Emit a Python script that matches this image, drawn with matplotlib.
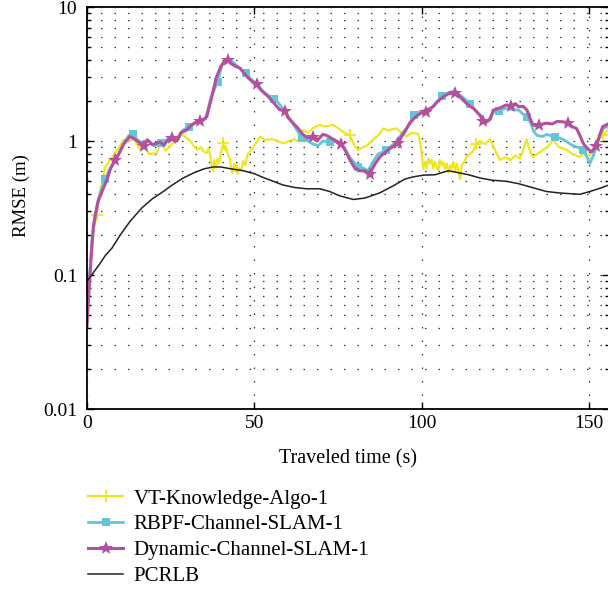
import matplotlib
matplotlib.use('Agg')
import matplotlib.pyplot as plt
from matplotlib.ticker import FixedLocator, FixedFormatter, LogLocator, NullFormatter

# ---- data ----
t_vt = [0, 0.5, 1, 1.5, 2, 2.9, 3.5, 4.5, 5.4, 6.5, 7.9, 9, 10.9, 12.8, 14, 15.8, 17, 18.5,
        20.8, 22, 23.5, 24.8, 26.5, 27.8, 28.8, 30.8, 32.8, 34, 34.8, 35.8, 36.3, 36.8, 37.3,
        37.7, 38.1, 38.5, 39, 39.5, 40, 40.7, 41.2, 41.5, 42, 42.7, 43.1, 43.5, 44, 44.4,
        44.7, 45.1, 45.5, 46, 46.7, 47.3, 48, 48.8, 49.7, 51.7, 53, 55.7, 58.7, 61.6, 63,
        64.6, 66, 67.5, 69.6, 71, 73.6, 75, 76.6, 78.6, 79.6, 81, 82.1, 83.5, 85.6, 87, 88.5,
        90, 92.5, 94, 95.5, 97, 99, 99.8, 100.5, 101, 101.5, 102, 102.5, 103, 103.5, 104,
        104.5, 105, 105.5, 106, 106.5, 107, 107.5, 108, 108.5, 109, 109.5, 110, 110.5, 111,
        111.5, 112, 112.7, 113.4, 115.5, 116.4, 117.4, 119, 120.4, 121.5, 123.4, 125, 126.4,
        128, 129.4, 130.5, 131.4, 132.3, 133.3, 134.5, 136.3, 138, 139.3, 141, 143.3, 145,
        147.3, 148.5, 150.3, 151.5, 152.8, 154.2, 156]
rmse_vt = [0.04, 0.07, 0.12, 0.17, 0.22, 0.28, 0.38, 0.5, 0.64, 0.7, 0.78, 0.85, 1.02, 1.0,
           1.05, 0.86, 0.95, 0.8, 0.81, 0.95, 0.85, 0.92, 1.0, 1.13, 1.1, 1.0, 0.86, 0.9,
           0.84, 0.81, 0.88, 0.78, 0.66, 0.6, 0.72, 0.63, 0.74, 0.68, 0.82, 0.96, 0.86, 0.92,
           0.8, 0.74, 0.62, 0.58, 0.68, 0.6, 0.66, 0.57, 0.63, 0.6, 0.71, 0.66, 0.8, 0.84,
           0.9, 1.08, 1.02, 1.03, 0.96, 1.03, 1.0, 1.21, 1.15, 1.25, 1.32, 1.28, 1.32, 1.25,
           1.17, 1.1, 0.96, 0.85, 0.89, 0.92, 1.03, 1.1, 1.24, 1.2, 1.24, 1.15, 1.08, 1.15,
           1.13, 0.9, 0.62, 0.7, 0.63, 0.74, 0.68, 0.72, 0.62, 0.7, 0.64, 0.6, 0.72, 0.66,
           0.7, 0.62, 0.68, 0.58, 0.66, 0.62, 0.7, 0.6, 0.68, 0.6, 0.52, 0.66, 0.7, 0.76,
           0.85, 0.95, 1.0, 0.95, 1.03, 0.9, 0.72, 0.76, 0.72, 0.78, 0.74, 0.88, 1.03, 0.85,
           0.76, 0.8, 0.86, 0.92, 1.03, 0.9, 0.86, 0.8, 0.76, 0.82, 0.78, 0.88, 1.03, 1.1,
           1.25]
marks_vt = [2.9, 40.7, 78.6, 116.4, 154.2]

t_rbpf = [0, 0.5, 1, 1.5, 2.5, 3.4, 4.5, 5.4, 7, 8.5, 9.5, 11, 12.5, 13.8, 15, 17, 18.5, 20,
          22.2, 24, 25.5, 27, 28.5, 30.6, 32, 33.8, 35.5, 37, 39, 40.5, 41.8, 43.5, 45, 47.4,
          49, 51, 53, 55.8, 57, 58.5, 60, 61.5, 63, 64.2, 66, 67.5, 69, 70.5, 72.6, 74, 75.5,
          77, 78.6, 81, 82.5, 84, 85.5, 87, 89.4, 91, 92.5, 94, 95.5, 97.8, 99.5, 101, 103,
          104.5, 106.2, 108, 109.8, 111, 112.5, 114.6, 116, 117.5, 118.5, 119.5, 120.5, 121.5,
          123, 125, 127, 129, 131.4, 132.5, 133.5, 134.5, 136, 137.5, 139.8, 141.5, 143, 145,
          146.5, 148.2, 149.5, 150.3, 151.5, 152.5, 153.5, 154.5, 156]
rmse_rbpf = [0.045, 0.075, 0.12, 0.18, 0.29, 0.37, 0.45, 0.52, 0.63, 0.73, 0.8, 0.97, 1.1,
             1.12, 1.02, 0.95, 1.0, 0.92, 0.96, 1.03, 1.06, 1.0, 1.2, 1.28, 1.35, 1.4, 1.5,
             2.1, 2.75, 3.8, 4.1, 3.9, 3.6, 3.2, 2.9, 2.6, 2.3, 2.05, 1.95, 1.75, 1.55, 1.35,
             1.18, 1.05, 1.0, 0.95, 0.92, 1.0, 0.98, 1.0, 0.97, 0.88, 0.75, 0.64, 0.63, 0.6,
             0.7, 0.8, 0.85, 0.92, 1.0, 1.12, 1.25, 1.55, 1.65, 1.7, 1.78, 1.95, 2.15, 2.3,
             2.35, 2.25, 2.1, 1.9, 1.7, 1.55, 1.43, 1.38, 1.5, 1.65, 1.68, 1.75, 1.72, 1.7,
             1.5, 1.38, 1.18, 1.1, 1.08, 1.12, 1.07, 1.05, 1.0, 0.93, 0.9, 0.86, 0.75, 0.68,
             0.8, 0.95, 1.15, 1.25, 1.3]
marks_rbpf = [5.4, 13.8, 22.2, 30.6, 39, 47.4, 55.8, 64.2, 72.6, 81, 89.4, 97.8, 106.2,
              114.6, 123, 131.4, 139.8, 148.2]

t_dyn = [0, 0.5, 1, 1.5, 1.9, 2.5, 3.4, 4.5, 5.9, 7, 8.45, 9.5, 11, 12.8, 13.8, 15, 16.9, 18,
         19.5, 21.8, 23, 24.2, 25.35, 26.8, 28, 29.8, 31, 32.5, 33.8, 35, 35.8, 37, 38.7, 40,
         41, 42.25, 43, 44.5, 45.7, 47, 48.5, 50.7, 52, 54.2, 56, 57.5, 59.15, 60, 61.6, 63,
         64.5, 66, 67.6, 69, 70.5, 71.6, 73, 74.5, 76.05, 77.2, 78.6, 80, 81.5, 83, 84.5, 86,
         87.5, 89, 90.5, 92.95, 94, 95.2, 96.5, 98, 99.5, 101.4, 103.5, 105, 106.5, 108,
         109.85, 111, 112.4, 114, 115.5, 117.4, 118.3, 119.4, 120.5, 121.4, 123, 125.4,
         126.75, 128, 129, 130.4, 131.5, 132.5, 133.3, 134.2, 135.2, 137.3, 139, 140.5, 142.3,
         143.65, 145, 146.3, 147.3, 148.3, 149.5, 150.8, 152.1, 153.2, 154.1, 156]
rmse_dyn = [0.042, 0.07, 0.11, 0.17, 0.23, 0.28, 0.36, 0.42, 0.51, 0.62, 0.72, 0.8, 0.95,
            1.08, 1.05, 1.0, 0.92, 1.02, 0.94, 0.98, 0.93, 1.02, 1.05, 1.0, 1.15, 1.21, 1.3,
            1.38, 1.42, 1.45, 1.52, 2.0, 3.0, 3.6, 3.9, 4.0, 3.8, 3.6, 3.5, 3.2, 2.9, 2.65,
            2.4, 2.14, 1.9, 1.72, 1.68, 1.5, 1.36, 1.25, 1.12, 1.05, 1.08, 1.02, 1.12, 1.1,
            1.05, 1.0, 0.95, 0.85, 0.72, 0.63, 0.6, 0.6, 0.57, 0.67, 0.76, 0.82, 0.88, 0.96,
            1.08, 1.2, 1.36, 1.5, 1.6, 1.66, 1.81, 2.0, 2.14, 2.25, 2.27, 2.2, 2.02, 1.85,
            1.75, 1.56, 1.42, 1.39, 1.45, 1.7, 1.75, 1.86, 1.82, 1.9, 1.8, 1.81, 1.7, 1.45,
            1.32, 1.3, 1.32, 1.36, 1.34, 1.4, 1.39, 1.37, 1.28, 1.24, 1.1, 0.96, 0.88, 0.83,
            0.91, 1.1, 1.28, 1.35]
marks_dyn = [8.45, 16.9, 25.35, 33.8, 42.25, 50.7, 59.15, 67.6, 76.05, 84.5, 92.95, 101.4,
             109.85, 118.3, 126.75, 135.2, 143.65, 152.1]

t_crlb = [0, 1.4, 3.9, 5.5, 7.4, 10, 12.8, 16.3, 19.5, 22.8, 25.5, 28.8, 32, 35, 37.7, 40,
          43, 46.7, 50, 53, 55.7, 58.5, 62, 65.6, 69.6, 72.5, 75.5, 79.6, 83, 87.5, 92, 95,
          97.5, 100.5, 104, 106, 108, 111, 114, 117.4, 121, 125.4, 129, 133, 137.3, 141, 144,
          147.3, 150.3, 154, 156]
rmse_crlb = [0.09, 0.1, 0.122, 0.14, 0.158, 0.2, 0.25, 0.315, 0.37, 0.42, 0.47, 0.53, 0.58,
             0.62, 0.64, 0.64, 0.62, 0.6, 0.57, 0.53, 0.5, 0.47, 0.45, 0.44, 0.44, 0.42, 0.39,
             0.366, 0.375, 0.41, 0.47, 0.52, 0.54, 0.556, 0.56, 0.58, 0.6, 0.58, 0.56, 0.53,
             0.51, 0.5, 0.48, 0.45, 0.42, 0.41, 0.405, 0.4, 0.42, 0.45, 0.47]

labels = ['VT-Knowledge-Algo-1', 'RBPF-Channel-SLAM-1', 'Dynamic-Channel-SLAM-1', 'PCRLB']
y_ticks = [0.01, 0.1, 1, 10]
y_ticklabels = ['0.01', '0.1', '1', '10']
x_ticks = [0, 50, 100, 150]

# ---- style ----
plt.rcParams['font.family'] = ['Liberation Serif', 'DejaVu Serif']
plt.rcParams['font.size'] = 14

YELLOW = '#f0e614'
CYAN = '#63c6d8'
PURPLE = '#b4509e'
BLACK = '#222222'
DOTS = (0, (1.2, 9.6))

fig = plt.figure(figsize=(6.08, 5.95), dpi=100)
ax = fig.add_axes([87 / 608, 186 / 595, 522 / 608, 402 / 595])

idx = lambda ts, ms: [ts.index(m) for m in ms]

ax.plot(t_vt, rmse_vt, color=YELLOW, lw=1.5, marker='+', ms=9, mew=1.2,
        markevery=idx(t_vt, marks_vt), label=labels[0])
ax.plot(t_rbpf, rmse_rbpf, color=CYAN, lw=2.0, marker='s', ms=6, mew=0,
        markevery=idx(t_rbpf, marks_rbpf), label=labels[1])
ax.plot(t_dyn, rmse_dyn, color=PURPLE, lw=2.2, marker='*', ms=10, mew=0,
        markevery=idx(t_dyn, marks_dyn), label=labels[2])
ax.plot(t_crlb, rmse_crlb, color=BLACK, lw=1.1, label=labels[3])

ax.set_yscale('log')
ax.set_ylim(0.01, 10)
ax.set_xlim(0, 156)
ax.yaxis.set_major_locator(FixedLocator(y_ticks))
ax.yaxis.set_major_formatter(FixedFormatter(y_ticklabels))
ax.yaxis.set_minor_locator(LogLocator(base=10, subs=range(2, 10)))
ax.yaxis.set_minor_formatter(NullFormatter())
ax.set_xticks(x_ticks)

ax.tick_params(which='both', direction='in', top=True, right=True, width=1.0)
ax.tick_params(axis='y', which='major', length=5, pad=7)
ax.tick_params(axis='y', which='minor', length=3)
ax.tick_params(axis='x', which='major', length=5, pad=4)
ax.tick_params(axis='x', which='minor', length=0)
for s in ax.spines.values():
    s.set_linewidth(1.3)

ax.grid(True, which='major', axis='x', color='#333333', lw=0.9, linestyle=DOTS)
ax.grid(True, which='both', axis='y', color='#333333', lw=0.9, linestyle=DOTS)

ax.set_xlabel('Traveled time (s)', fontsize=14.5)
ax.set_ylabel('RMSE (m)', fontsize=13.5)
ax.xaxis.set_label_coords(0.5, -0.1)
ax.yaxis.set_label_coords(-0.11, 0.53)

fig.legend(loc='upper left', bbox_to_anchor=(88 / 608, 1 - 489 / 595), frameon=False,
           handlelength=1.7, handletextpad=0.48, labelspacing=0.3, borderaxespad=0,
           borderpad=0, fontsize=15)

fig.savefig('out.png', dpi=100)
